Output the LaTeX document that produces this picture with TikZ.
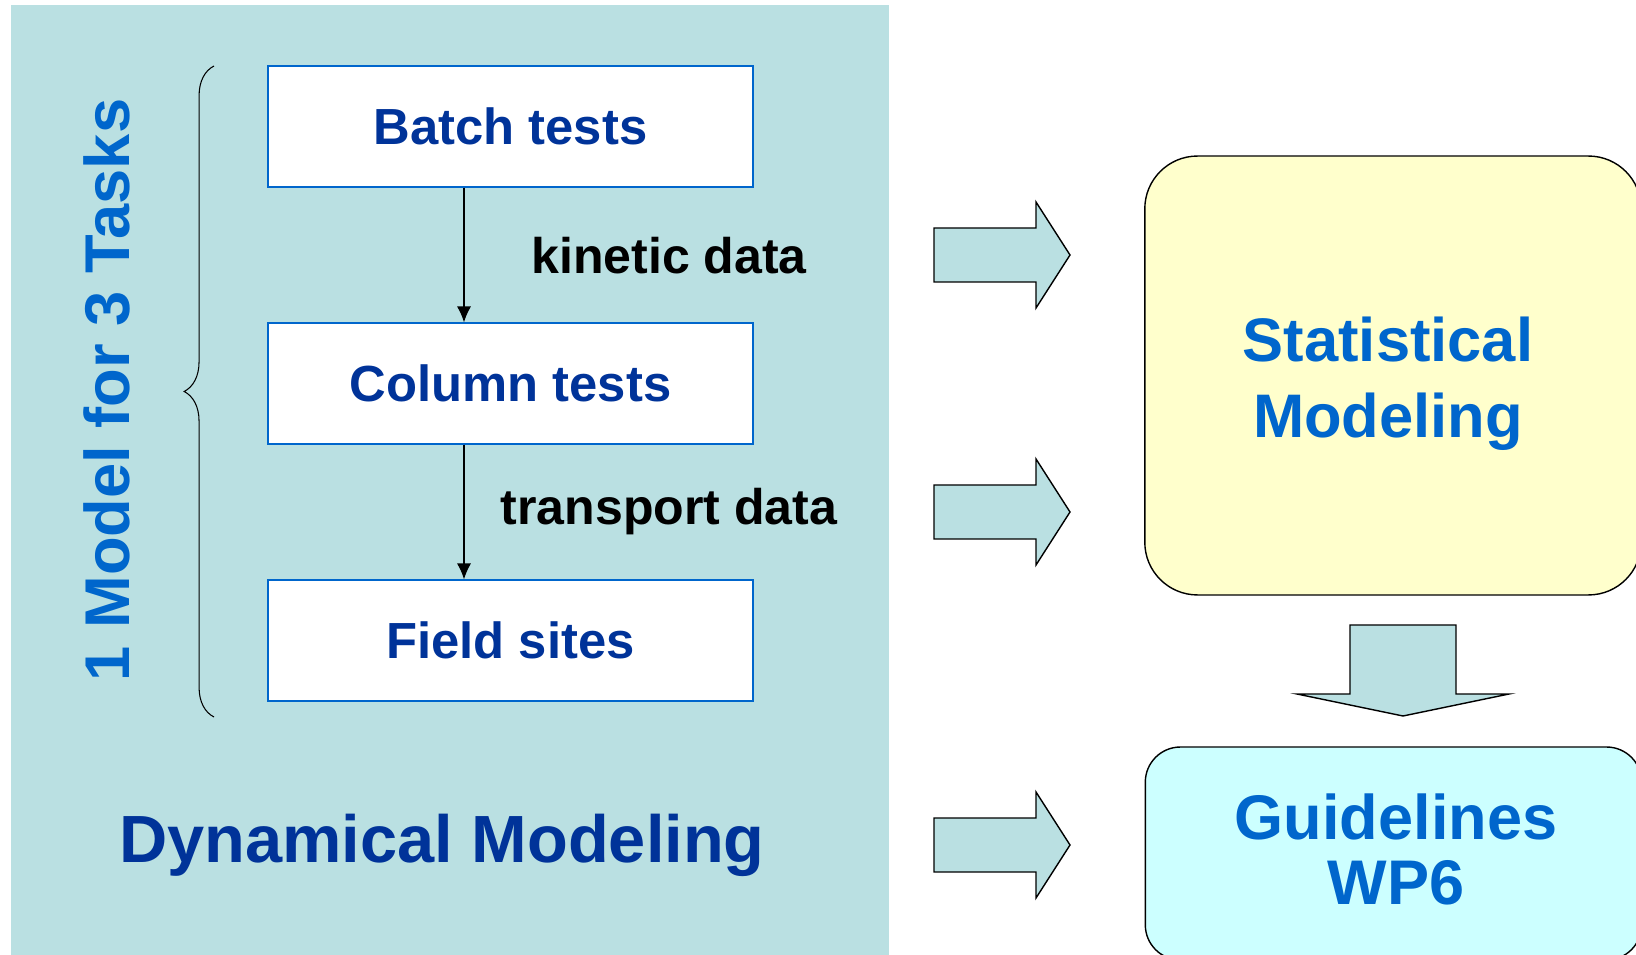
\documentclass[tikz,border=0pt]{standalone}
\usepackage{fontspec}
\setmainfont{Liberation Sans}
\usetikzlibrary{arrows.meta,decorations.pathreplacing,positioning}

\definecolor{panelteal}{HTML}{BAE0E2}
\definecolor{navytext}{HTML}{003399}
\definecolor{midblue}{HTML}{0066CC}
\definecolor{paleyellow}{HTML}{FFFFCC}
\definecolor{palecyan}{HTML}{CCFFFF}

\begin{document}
\begin{tikzpicture}[x=0.02cm, y=-0.02cm,
  task/.style={draw=midblue, fill=white, line width=0.8pt,
               minimum width=9.7cm, minimum height=2.42cm,
               text=navytext, font=\fontsize{28.9}{34}\selectfont\bfseries},
  lab/.style={text=black, font=\fontsize{28.5}{34}\selectfont\bfseries},
  flow/.style={-{Latex[length=9pt,width=8pt]}, line width=0.7pt},
  model/.style={draw=black, line width=0.8pt, minimum width=9.93cm},
  modlab/.style={text=midblue, align=center},
  barrow/.style={draw=black, fill=panelteal, line width=0.8pt},
]
\useasboundingbox (0,0) rectangle (1636,955);

% ---- Dynamical modeling panel ----------------------------------------------
\fill[panelteal] (11,5) rectangle (889,955);

\node[task] (batch)  at (510.5,126.5) {Batch tests};
\node[task] (column) at (510.5,383.5) {Column tests};
\node[task] (field)  at (510.5,640.5) {Field sites};

\draw[flow] ([xshift=-0.93cm]batch.south) -- ([xshift=-0.93cm]column.north);
\draw[flow] ([xshift=-0.93cm]column.south) -- ([xshift=-0.93cm]field.north);
\node[lab] (kin)   at (669,256) {kinetic data};
\node[lab] (trans) at (669,512) {transport data};

% ---- Brace and task label --------------------------------------------------
\draw[decorate, decoration={brace, amplitude=17pt}, line width=0.6pt]
  (214,717) -- (214,66);
\node[rotate=90, text=midblue, font=\fontsize{36}{42}\selectfont\bfseries]
  (tasks) at (107,390) {1 Model for 3 Tasks};

\node[text=navytext, font=\fontsize{38}{44}\selectfont\bfseries]
  (dyn) at (442,845) {Dynamical Modeling};

% ---- Block arrows ----------------------------------------------------------
\draw[barrow] (934,228) -- (1036,228) -- (1036,202) -- (1070,255)
  -- (1036,308) -- (1036,282) -- (934,282) -- cycle;
\draw[barrow] (934,485) -- (1036,485) -- (1036,459) -- (1070,512)
  -- (1036,565) -- (1036,539) -- (934,539) -- cycle;
\draw[barrow] (934,818) -- (1036,818) -- (1036,792) -- (1070,845)
  -- (1036,898) -- (1036,872) -- (934,872) -- cycle;
\draw[barrow] (1350,625) -- (1456,625) -- (1456,694) -- (1509,694)
  -- (1403,716) -- (1297,694) -- (1350,694) -- cycle;

% ---- Statistical modeling and guidelines -----------------------------------
\node[model, fill=paleyellow, minimum height=8.78cm, rounded corners=30pt]
  (stat) at (1393,375.5) {};
\node[modlab, font=\fontsize{35}{43}\selectfont\bfseries]
  (statlab) at (1388,384) {Statistical\\Modeling};
\node[model, fill=palecyan, minimum height=4.26cm, rounded corners=20pt]
  (guide) at (1393.5,853.5) {};
\node[modlab, font=\fontsize{35.9}{37}\selectfont\bfseries]
  (guidelab) at (1396,849.5) {Guidelines\\WP6};

\end{tikzpicture}
\end{document}
